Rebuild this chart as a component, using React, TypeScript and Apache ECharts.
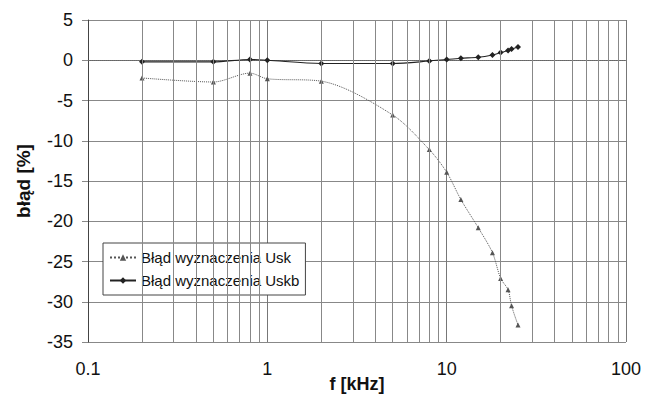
import React, { useEffect, useRef } from "react";
import * as echarts from "echarts";

const freqUsk = [0.2, 0.5, 0.8, 1, 2, 5, 8, 10, 12, 15, 18, 20, 22, 23, 25];
const errUsk = [-2.2, -2.7, -1.6, -2.3, -2.6, -6.8, -11.1, -13.9, -17.3, -20.8, -23.9, -27.1, -28.5, -30.5, -32.9];
const freqUskb = [0.2, 0.5, 0.8, 1, 2, 5, 8, 10, 12, 15, 18, 20, 22, 23, 25];
const errUskb = [-0.2, -0.2, 0.1, 0.0, -0.4, -0.4, -0.1, 0.1, 0.25, 0.37, 0.66, 0.95, 1.2, 1.4, 1.65];
const minorFreqs = [0.2, 0.3, 0.4, 0.5, 0.6, 0.7, 0.8, 0.9, 2, 3, 4, 5, 6, 7, 8, 9, 20, 30, 40, 50, 60, 70, 80, 90];
const seriesNames = ["Błąd wyznaczenia Usk", "Błąd wyznaczenia Uskb"];
const xAxisTitle = "f [kHz]";

const FONT = "Liberation Sans, Arial, sans-serif";

export default function App() {
  const ref = useRef<HTMLDivElement>(null);
  useEffect(() => {
    if (!ref.current) return;
    const chart = echarts.init(ref.current, null, { renderer: "svg" });
    chart.setOption({
      animation: false,
      backgroundColor: "#fff",
      grid: {
        left: 88,
        right: 19,
        top: 20,
        bottom: 54,
        show: false,
        containLabel: false,
        outerBoundsMode: "none",
      },
      graphic: [
        {
          type: "text",
          x: 357,
          y: 375,
          style: {
            text: xAxisTitle,
            font: "bold 18px Liberation Sans, Arial, sans-serif",
            fill: "#111",
            align: "center",
            verticalAlign: "top",
          },
        },
      ],
      legend: {
        orient: "vertical",
        left: 103,
        top: 243,
        data: seriesNames,
        backgroundColor: "#fff",
        borderColor: "#444",
        borderWidth: 1,
        padding: [7, 6, 7, 6],
        itemGap: 8,
        itemWidth: 26,
        itemHeight: 8,
        textStyle: { fontFamily: FONT, fontSize: 15, color: "#111" },
      },
      xAxis: {
        type: "log",
        logBase: 10,
        min: 0.1,
        max: 100,
        axisLine: { show: true, lineStyle: { color: "#666", width: 1, type: "dotted" } },
        axisTick: { show: false },
        axisLabel: { fontFamily: FONT, fontSize: 18, color: "#111", margin: 18 },
        splitLine: { show: true, lineStyle: { color: "#777", width: 1 } },
      },
      yAxis: {
        type: "value",
        min: -35,
        max: 5,
        interval: 5,
        name: "błąd [%]",
        nameLocation: "middle",
        nameGap: 55,
        nameTextStyle: { fontFamily: FONT, fontSize: 19, fontWeight: "bold", color: "#111" },
        axisLine: { show: true, lineStyle: { color: "#444", width: 1 } },
        axisTick: { show: true, inside: false, length: 6, lineStyle: { color: "#888" } },
        axisLabel: { fontFamily: FONT, fontSize: 18, color: "#111", margin: 15 },
        splitLine: { show: true, lineStyle: { color: "#888", width: 1 } },
      },
      series: [
        {
          name: "minor",
          type: "line",
          data: [],
          z: 1,
          silent: true,
          markLine: {
            silent: true,
            symbol: "none",
            label: { show: false },
            lineStyle: { color: "#888", width: 1, type: "solid" },
            data: minorFreqs.map((f) => ({ xAxis: f })),
          },
        },
        {
          name: seriesNames[0],
          type: "line",
          z: 3,
          smooth: 0.3,
          data: freqUsk.map((f, i) => [f, errUsk[i]]),
          symbol: "triangle",
          symbolSize: 5,
          itemStyle: { color: "#555" },
          lineStyle: { color: "#555", width: 1, type: "dotted" },
        },
        {
          name: seriesNames[1],
          type: "line",
          z: 4,
          smooth: 0.3,
          data: freqUskb.map((f, i) => [f, errUskb[i]]),
          symbol: "diamond",
          symbolSize: 6,
          itemStyle: { color: "#222" },
          lineStyle: { color: "#222", width: 1.1 },
        },
      ],
    });
    return () => chart.dispose();
  }, []);
  return (
    <div
      ref={ref}
      style={{ position: "absolute", left: 0, top: 0, width: 645, height: 396 }}
    />
  );
}
